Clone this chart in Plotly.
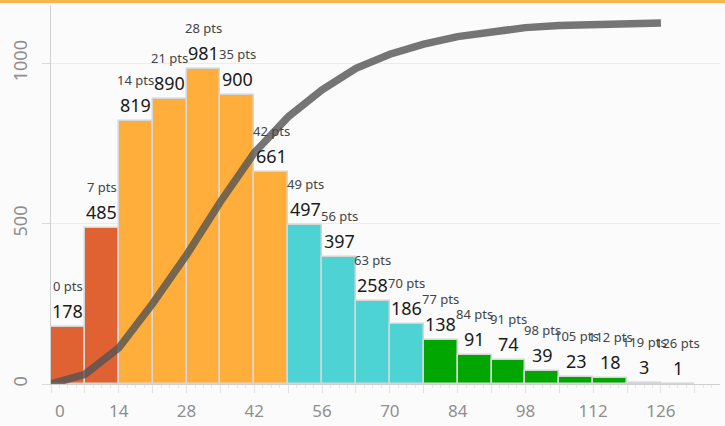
import plotly.graph_objects as go

# ---- data ----
bin_starts = [0, 7, 14, 21, 28, 35, 42, 49, 56, 63, 70, 77, 84, 91, 98, 105, 112, 119, 126]
counts = [178, 485, 819, 890, 981, 900, 661, 497, 397, 258, 186, 138, 91, 74, 39, 23, 18, 3, 1]
pts_labels = ["0 pts", "7 pts", "14 pts", "21 pts", "28 pts", "35 pts", "42 pts", "49 pts", "56 pts",
              "63 pts", "70 pts", "77 pts", "84 pts", "91 pts", "98 pts", "105 pts", "112 pts",
              "119 pts", "126 pts"]
groups = ["low", "low", "mid", "mid", "mid", "mid", "mid", "high", "high", "high", "high",
          "top", "top", "top", "top", "top", "top", "top", "top"]
# cumulative count at each bin's left edge
cum_x = [0, 7, 14, 21, 28, 35, 42, 49, 56, 63, 70, 77, 84, 91, 98, 105, 112, 119, 126]
cum_counts = [0, 178, 663, 1482, 2372, 3353, 4253, 4914, 5411, 5808, 6066, 6252, 6390,
              6481, 6555, 6594, 6617, 6635, 6638]
total_count = 6639
x_tickvals = [0, 7, 14, 21, 28, 35, 42, 49, 56, 63, 70, 77, 84, 91, 98, 105, 112, 119, 126, 133]
x_ticktext = ["\u00a0\u00a0\u00a0\u00a00", "", "14", "", "28", "", "42", "", "56", "", "70", "",
              "84", "", "98", "", "112", "", "126", ""]
y_tickvals = [0, 500, 1000]

# ---- styles ----
group_colors = {"low": "#E06232", "mid": "#FFAE3B", "high": "#4ED3D4", "top": "#01A601"}
FONT = "Noto Sans"
bin_w = 7
centers = [s + bin_w / 2 for s in bin_starts]

fig = go.Figure()
fig.add_trace(go.Bar(
    x=bin_starts, y=counts, width=[bin_w] * len(counts), offset=0,
    marker=dict(color=[group_colors[g] for g in groups],
                line=dict(color="#d6d6d6", width=1.5)),
    hoverinfo="skip", showlegend=False,
))
fig.add_trace(go.Scatter(
    x=cum_x, y=cum_counts, yaxis="y2", mode="lines",
    line=dict(color="rgba(84,84,84,0.8)", width=7.5),
    hoverinfo="skip", showlegend=False,
))

annotations = []
for c, v, p in zip(centers, counts, pts_labels):
    annotations.append(dict(x=c, y=v, xref="x", yref="y", text=str(v), showarrow=False,
                            xanchor="center", yanchor="middle", yshift=16,
                            font=dict(family=FONT, size=18, color="#1a1a1a")))
    annotations.append(dict(x=c, y=v, xref="x", yref="y", text=p, showarrow=False,
                            xanchor="center", yanchor="middle", yshift=41,
                            font=dict(family=FONT, size=13, color="#444444")))

W, H = 725, 426
ml, mr, mt, mb = 51, 5, 5, 42
pw, ph = W - ml - mr, H - mt - mb

fig.update_layout(
    width=W, height=H,
    margin=dict(l=ml, r=mr, t=mt, b=mb, pad=0, autoexpand=False),
    paper_bgcolor="#fbfbfb", plot_bgcolor="#fbfbfb",
    bargap=0,
    annotations=annotations,
    xaxis=dict(range=[0, 138.2], tickmode="array", tickvals=x_tickvals, ticktext=x_ticktext,
               ticks="outside", ticklen=8, tickcolor="#e2e2e2", tickwidth=1,
               showgrid=False, zeroline=False, showline=True, linecolor="#cfcfcf", linewidth=1,
               tickfont=dict(family=FONT, size=17, color="#8f8f8f"), ticklabelstandoff=4,
               minor=dict(ticks="outside", ticklen=3, dtick=1.75, tick0=0, tickcolor="#e6e6e6"),
               automargin=False, fixedrange=True),
    yaxis=dict(range=[0, 1182], tickmode="array", tickvals=y_tickvals,
               ticks="outside", ticklen=8, tickcolor="#d9d9d9",
               showgrid=True, gridcolor="#ececec", gridwidth=1,
               zeroline=False, showline=True, linecolor="#d0d0d0", linewidth=1,
               tickangle=-90, tickfont=dict(family=FONT, size=18, color="#8f8f8f"),
               ticklabelstandoff=8, automargin=False, fixedrange=True),
    yaxis2=dict(overlaying="y", range=[0, total_count * 1.05], visible=False, fixedrange=True),
    shapes=[dict(type="rect", xref="paper", yref="paper",
                 x0=-ml / pw, x1=1 + mr / pw, y0=1 + (mt - 3) / ph, y1=1 + mt / ph,
                 fillcolor="#f6b64c", line=dict(width=0), layer="above")],
)

fig.write_html("out.html", config={"displayModeBar": False},
               post_script="document.body.style.margin='0';document.body.style.overflow='hidden';")
